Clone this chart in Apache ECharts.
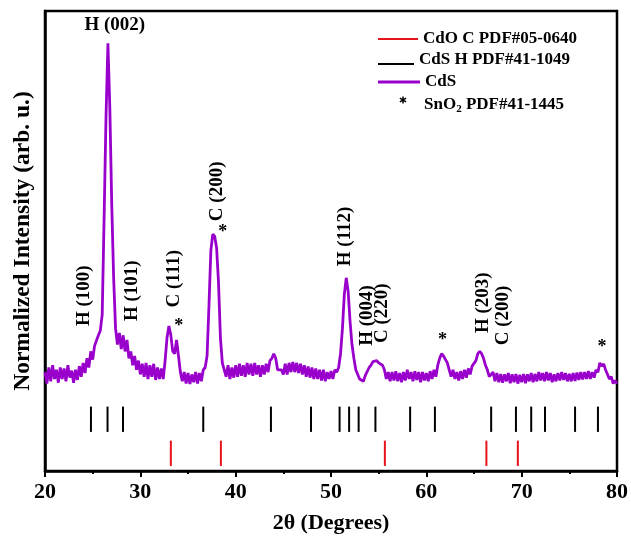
<!DOCTYPE html>
<html><head><meta charset="utf-8">
<script src="https://cdn.jsdelivr.net/npm/echarts@6/dist/echarts.min.js"></script>
<style>html,body{margin:0;padding:0;background:#fff}#c{width:631px;height:539px}</style>
</head><body><div id="c"></div>
<script>
// ---- data ----
const scanStart = 20, scanStep = 0.2;   // 2θ grid of the CdS scan (20.0 ... 80.0)
const intensity = [
  21.5, 19, 22.5, 19.5, 23,
  20, 22, 19.2, 22.5, 20,
  22.3, 19.5, 23, 20.3, 21.8,
  19.2, 22, 19.8, 22.8, 20.5,
  23.5, 21.3, 24.5, 22.5, 26,
  24.2, 27.2, 27, 29.5, 30.5,
  34, 55, 77, 93, 79,
  58, 42, 31, 27.5, 30,
  26.5, 29.5, 26, 28.5, 24.5,
  26, 23, 25, 22, 24,
  21, 23.3, 20.5, 23.5, 20,
  23, 20.5, 23.3, 19.8, 22.5,
  20, 22.3, 20, 24, 29,
  31.5, 29.5, 26, 25.5, 28.5,
  25, 21.5, 19.5, 21.5, 19,
  21.3, 18.9, 21, 19.3, 21.5,
  19, 21.3, 19.5, 22, 22.5,
  25, 36, 48, 51.5, 51,
  48.5, 41, 29, 23.5, 22,
  20.5, 23, 20, 22.5, 20.3,
  23, 20.5, 23.3, 20.7, 23,
  20.5, 23.5, 21, 23.3, 20.7,
  23.5, 21, 23, 20.5, 23,
  21, 23.3, 21.5, 24, 24.5,
  25.5, 24.5, 22, 22, 22,
  21, 23.3, 21, 23.5, 21.5,
  23.7, 21.5, 23.5, 21.3, 23.3,
  21, 23, 20.5, 22.7, 20.3,
  22.5, 20, 22.3, 20, 22,
  19.7, 22, 19.5, 21.5, 20,
  21.7, 20, 22, 21.5, 22.5,
  25.5, 31, 38.5, 42, 39,
  32.5, 27.5, 24.5, 22, 21.8,
  20, 20.3, 19.5, 20.8, 20.5,
  22.5, 23, 23.8, 23.5, 24,
  23.5, 23.5, 23, 22, 20,
  21.5, 19.5, 21.5, 19.7, 21.7,
  19.5, 21.3, 19.3, 21.5, 19.7,
  22, 20, 21.5, 19.5, 21.7,
  19.8, 21.5, 19.3, 21.5, 19.7,
  21.3, 19.5, 21.7, 20, 22,
  20.5, 23, 24.5, 25.5, 25,
  25.3, 23.5, 22, 20.5, 22,
  20, 21.5, 19.7, 21.7, 20,
  22, 20.3, 22.3, 21, 22.8,
  23, 24, 25.5, 26, 25.5,
  24.5, 23, 22, 20.5, 21,
  21.5, 19.5, 21.3, 19.3, 21.1,
  19.2, 21, 19.5, 21.3, 19.1,
  21, 19.3, 21.1, 19, 20.9,
  19.3, 21.1, 19.1, 21, 19.5,
  21.3, 19.3, 21.1, 19.5, 21.5,
  19.7, 21.3, 19.5, 21.5, 19.7,
  21.3, 19.3, 21, 19.5, 21.3,
  19.7, 21.5, 19.8, 21.3, 19.5,
  21.1, 19.5, 21.3, 19.6, 21.4,
  19.8, 21.5, 19.9, 21.5, 20,
  21.7, 20, 21.5, 20.3, 22,
  21.5, 23.5, 22.8, 23.3, 22,
  22, 20, 20.5, 19, 19.7,
  19
];
const cdsHexPeaks = [24.82, 26.56, 28.18, 36.6, 43.7, 47.9, 50.9, 51.9, 52.9, 54.66, 58.3, 60.9, 66.8, 69.4, 71.0, 72.45, 75.6, 78.0];
const cdoCubicPeaks = [33.2, 38.45, 55.65, 66.3, 69.6];
const sno2Peaks = [34.04, 38.64, 61.7, 78.43];
const sno2MarkY = [31.5, 51.9, 28.3, 26.8];
const peakLabels = ['H (002)', 'H (100)', 'H (101)', 'C (111)', 'C (200)', 'H (112)', 'H (004)', 'C (220)', 'H (203)', 'C (200)'];
const peakLabelX = [27.32, 24.1, 29.15, 33.5, 38.0, 51.5, 53.77, 55.4, 66.0, 68.0];
const peakLabelY = [96.9, 38.1, 39.2, 41.8, 60.8, 51.0, 33.8, 34.3, 36.6, 33.8];
const peakLabelVertical = [false, true, true, true, true, true, true, true, true, true];
const seriesNames = ['CdO C PDF#05-0640', 'CdS H PDF#41-1049', 'CdS', 'SnO2 PDF#41-1445'];

// ---- styling ----
const FONT = "'Liberation Serif','Times New Roman',serif";
const PURPLE = '#9900cc', RED = '#e8141b', BLACK = '#000';
const txt = (size) => ({fontFamily: FONT, fontWeight: 'bold', fontSize: size, color: BLACK});

function cornerTris(bw, bh) {
  return `M0,0 L0.01,0 L0,0.01 Z M${bw},${bh} L${bw - 0.01},${bh} L${bw},${bh - 0.01} Z `;
}
function asteriskIcon(cx, cy, r, w, bw, bh) {
  let p = cornerTris(bw, bh);
  for (const a of [90, 30, -30]) {
    const t = a * Math.PI / 180, dx = Math.cos(t), dy = Math.sin(t), nx = -dy, ny = dx;
    const pts = [[cx + dx * r + nx * w / 2, cy + dy * r + ny * w / 2], [cx + dx * r - nx * w / 2, cy + dy * r - ny * w / 2],
                 [cx - dx * r - nx * w / 2, cy - dy * r - ny * w / 2], [cx - dx * r + nx * w / 2, cy - dy * r + ny * w / 2]];
    p += 'M' + pts.map(q => q[0].toFixed(2) + ',' + q[1].toFixed(2)).join(' L') + ' Z ';
  }
  return 'path://' + p;
}
const blackLineIcon = 'path://' + cornerTris(36, 10) + 'M0,8 L36,8 L36,10 L0,10 Z';

function stickSeries(name, positions, lo, hi, color) {
  return {
    type: 'custom', name, silent: true, itemStyle: {color},
    data: positions.map(p => [p, lo, hi]),
    renderItem: (params, api) => {
      const a = api.coord([api.value(0), api.value(1)]);
      const b = api.coord([api.value(0), api.value(2)]);
      return {type: 'line', shape: {x1: a[0], y1: a[1], x2: b[0], y2: b[1]}, style: {stroke: color, lineWidth: 2}};
    }
  };
}

const legendText = Object.assign(txt(17), {lineHeight: 20, rich: {
  a: {fontFamily: FONT, fontWeight: 'bold', fontSize: 17, color: BLACK},
  s: {fontFamily: FONT, fontWeight: 'bold', fontSize: 11, color: BLACK, verticalAlign: 'bottom', padding: [9, 0, 0, 0]}
}});
const legendFmt = (n) => n.indexOf('SnO2') === 0 ? '{a|SnO}{s|2}{a|' + n.slice(4) + '}' : n;
function oneLegend(name, top, icon, w, h, color) {
  return {left: 373, top, orient: 'vertical', selectedMode: false, data: [{name, icon}], itemWidth: w, itemHeight: h,
          itemStyle: {color, borderWidth: 0, opacity: 1}, textStyle: legendText, formatter: legendFmt};
}

const chart = echarts.init(document.getElementById('c'), null, {renderer: 'canvas'});
chart.setOption({
  animation: false,
  backgroundColor: '#fff',
  grid: {left: 45, right: 12, top: 11, bottom: 61, show: true, borderColor: BLACK, borderWidth: 2.5},
  legend: [
    oneLegend(seriesNames[0], 24, 'rect', 40, 2, RED),
    oneLegend(seriesNames[1], 45, blackLineIcon, 36, 10, BLACK),
    oneLegend(seriesNames[2], 67, 'rect', 42, 3, PURPLE),
    oneLegend(seriesNames[3], 90, asteriskIcon(25, 5, 3.6, 1.5, 41, 20), 41, 20, BLACK)
  ],
  xAxis: {
    type: 'value', min: 20, max: 80, interval: 10,
    axisLine: {lineStyle: {color: BLACK, width: 2.5}},
    axisTick: {length: 6, lineStyle: {color: BLACK, width: 2}},
    minorTick: {show: true, splitNumber: 2, length: 3, lineStyle: {color: BLACK, width: 2}},
    splitLine: {show: false},
    axisLabel: Object.assign(txt(22), {margin: 10}),
    name: '2θ (Degrees)', nameLocation: 'middle', nameGap: 41, nameTextStyle: txt(22)
  },
  yAxis: {
    type: 'value', min: 0, max: 100,
    axisLine: {show: true, lineStyle: {color: BLACK, width: 2.5}},
    axisTick: {show: false}, axisLabel: {show: false}, splitLine: {show: false},
    name: 'Normalized Intensity (arb. u.)', nameLocation: 'middle', nameGap: 10, nameTextStyle: txt(23.5)
  },
  series: [
    stickSeries(seriesNames[0], cdoCubicPeaks, 1.1, 6.6, RED),
    stickSeries(seriesNames[1], cdsHexPeaks, 8.5, 14, BLACK),
    {
      type: 'line', name: seriesNames[2], silent: true, symbol: 'none', showSymbol: false, z: 3,
      data: intensity.map((v, i) => [+(scanStart + i * scanStep).toFixed(1), v]),
      lineStyle: {color: PURPLE, width: 2.8}, itemStyle: {color: PURPLE}
    },
    {
      type: 'scatter', name: seriesNames[3], silent: true, symbolSize: 1, z: 4,
      itemStyle: {color: 'rgba(0,0,0,0)', opacity: 1},
      data: sno2Peaks.map((p, i) => [p, sno2MarkY[i]]),
      label: Object.assign(txt(18), {show: true, position: 'inside', formatter: '*'})
    },
    {
      type: 'scatter', name: 'peak labels', silent: true, symbolSize: 1, z: 4,
      itemStyle: {color: 'rgba(0,0,0,0)', opacity: 1},
      data: peakLabels.map((t, i) => ({value: [peakLabelX[i], peakLabelY[i]], name: t,
        label: {rotate: peakLabelVertical[i] ? 90 : 0}})),
      label: Object.assign(txt(19), {show: true, position: 'inside', formatter: p => p.name})
    }
  ]
});
</script>
</body></html>
